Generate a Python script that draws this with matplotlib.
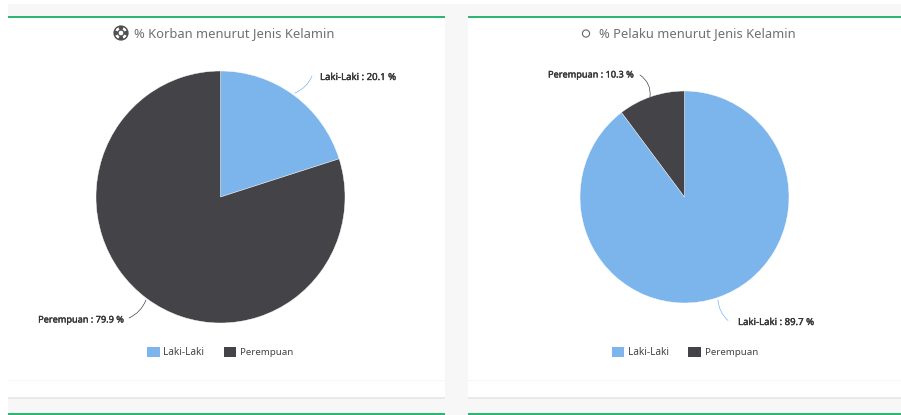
import matplotlib
matplotlib.use('Agg')
import matplotlib.pyplot as plt
import matplotlib.patheffects as pe
from matplotlib.patches import Rectangle, Circle, Wedge

plt.rcParams['font.family'] = ['Noto Sans', 'DejaVu Sans']

W = 901
H = 415

categories = ['Laki-Laki', 'Perempuan']
korban_values = [20.1, 79.9]
pelaku_values = [89.7, 10.3]
colors = ['#7cb5ec', '#434348']

title_korban = '% Korban menurut Jenis Kelamin'
title_pelaku = '% Pelaku menurut Jenis Kelamin'

fig = plt.figure(figsize=(W / 100, H / 100), dpi=100, facecolor='white')

# page background in pixel coordinates
bg = fig.add_axes([0, 0, 1, 1])
bg.set_xlim(0, W)
bg.set_ylim(H, 0)
bg.axis('off')


def rect(x0, y0, x1, y1, color, z=1):
    bg.add_patch(Rectangle((x0, y0), x1 - x0, y1 - y0, facecolor=color, edgecolor='none', zorder=z))


rect(8, 4, W, H, '#f7f7f7')
for x0, x1 in [(8, 445), (468, W)]:
    rect(x0, 397, x1, 398.5, '#e9e9e9', 2)
    rect(x0, 17, x1, 397, 'white', 2)
    rect(x0, 380, x1, 381, '#f6f6f6', 3)
    rect(x0, 16, x1, 18.5, '#2bb673', 3)
    rect(x0, 413, x1, H, '#2bb673', 3)

bg.text(234.5, 33.5, title_korban, fontsize=9.3, color='#707070', ha='center', va='center', zorder=5)
bg.text(697.5, 33.5, title_pelaku, fontsize=9.3, color='#707070', ha='center', va='center', zorder=5)

# title icons
bg.add_patch(Wedge((121, 33), 7, 0, 360, width=4.2, facecolor='#505050', edgecolor='none', zorder=5))
for a in [45, 135, 225, 315]:
    bg.add_patch(Wedge((121, 33), 6.4, a - 20, a + 20, width=3.4, facecolor='white', edgecolor='none', zorder=6))
bg.add_patch(Circle((121, 33), 7, fill=False, edgecolor='#505050', linewidth=0.9, zorder=7))
bg.add_patch(Circle((121, 33), 3, fill=False, edgecolor='#505050', linewidth=0.9, zorder=7))
bg.add_patch(Circle((586, 33.5), 3.6, fill=False, edgecolor='#666666', linewidth=0.8, zorder=5))


def draw_pie(cx, cy, rx, ry, values):
    ax = fig.add_axes([(cx - rx) / W, 1 - (cy + ry) / H, 2 * rx / W, 2 * ry / H])
    ax.pie(values, colors=colors, startangle=90, counterclock=False, radius=1,
           wedgeprops={'edgecolor': 'white', 'linewidth': 0.3})
    ax.set_aspect('auto')
    ax.set_xlim(-1, 1)
    ax.set_ylim(-1, 1)
    ax.set_zorder(3)
    ax.patch.set_visible(False)
    return ax


draw_pie(220.5, 197, 124.5, 126, korban_values)
draw_pie(684.5, 197, 104.5, 106, pelaku_values)
bg.set_zorder(1)

# overlay for labels and connectors
top = fig.add_axes([0, 0, 1, 1])
top.set_xlim(0, W)
top.set_ylim(H, 0)
top.axis('off')
top.set_zorder(5)

labels = [
    (f'{categories[0]} : {korban_values[0]} %', 320, 77.5, 'left', colors[0], (295, 93), (312, 76), 0.2, 6.9),
    (f'{categories[1]} : {korban_values[1]} %', 124, 320, 'right', colors[1], (146, 300), (129, 318), -0.2, 6.6),
    (f'{categories[1]} : {pelaku_values[1]} %', 634, 75, 'right', colors[1], (650, 97), (640, 75), 0.3, 6.6),
    (f'{categories[0]} : {pelaku_values[0]} %', 738, 322.5, 'left', colors[0], (718, 300), (728, 320.5), 0.2, 6.9),
]
for txt, x, y, ha, col, start, end, rad, size in labels:
    top.text(x, y, txt, fontsize=size, color='#333333', ha=ha, va='center',
             path_effects=[pe.withStroke(linewidth=0.25, foreground='#333333')])
    top.annotate('', xy=end, xytext=start,
                 arrowprops=dict(arrowstyle='-', color=col, lw=0.5, shrinkA=0, shrinkB=0,
                                 connectionstyle=f'arc3,rad={rad}'))

# legends
for lx in [147, 611.5]:
    top.add_patch(Rectangle((lx, 346.5), 12.5, 10.5, facecolor=colors[0], edgecolor='none'))
    top.text(lx + 16.5, 352, categories[0], fontsize=7.2, color='#444444', ha='left', va='center')
    top.add_patch(Rectangle((lx + 76.5, 346.5), 12.5, 10.5, facecolor=colors[1], edgecolor='none'))
    top.text(lx + 93, 352, categories[1], fontsize=7, color='#444444', ha='left', va='center')

fig.savefig('out.png', dpi=100, facecolor='white')
